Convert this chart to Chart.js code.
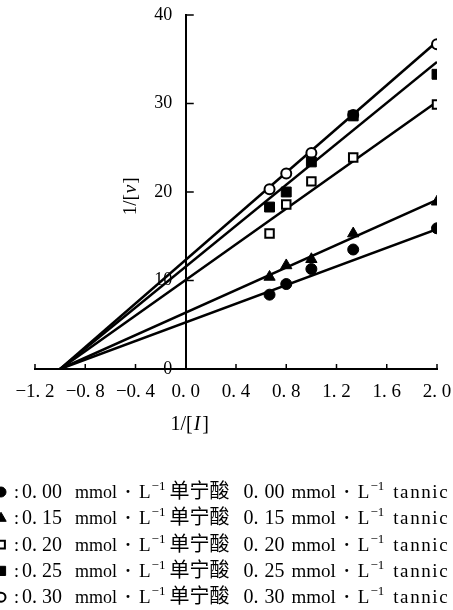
<!DOCTYPE html>
<html>
<head>
<meta charset="utf-8">
<script src="https://cdn.jsdelivr.net/npm/chart.js@4.4.0/dist/chart.umd.min.js"></script>
<style>
  html, body { margin: 0; padding: 0; background: #fff; }
</style>
</head>
<body>
<canvas id="myChart" width="453" height="610"></canvas>
<script>
// 1/[I] values where measurements were taken
const xValues = [0.667, 0.8, 1.0, 1.333, 2.0]

// 1/[v] for each tannic acid concentration
const tannic000 = [8.4, 9.6, 11.3, 13.5, 15.9]
const tannic015 = [10.4, 11.7, 12.4, 15.3, 18.9]
const tannic020 = [15.3, 18.6, 21.2, 23.9, 29.9]
const tannic025 = [18.3, 20.0, 23.4, 28.6, 33.3]
const tannic030 = [20.3, 22.1, 24.4, 28.7, 36.7]

// fitted lines, read at both ends
const fitX = [-1.0, 2.0]
const fit000 = [0, 15.8]
const fit015 = [0, 19.1]
const fit020 = [0, 30.2]
const fit025 = [0, 34.7]
const fit030 = [0, 37.0]

const concLabels = ['0.00', '0.15', '0.20', '0.25', '0.30']
const xTicks = [-1.2, -0.8, -0.4, 0, 0.4, 0.8, 1.2, 1.6, 2.0]
const yTicks = [0, 10, 20, 30, 40]

const serif = "'Liberation Serif', 'DejaVu Serif', serif"
const cjk = "'Noto Sans CJK SC', sans-serif"

const markers = [
  { pointStyle: 'circle', radius: 5.5, fill: '#000', borderWidth: 1 },
  { pointStyle: 'triangle', radius: 6.5, fill: '#000', borderWidth: 1 },
  { pointStyle: 'rect', radius: 6, fill: '#fff', borderWidth: 2 },
  { pointStyle: 'rect', radius: 7, fill: '#000', borderWidth: 1 },
  { pointStyle: 'circle', radius: 5, fill: '#fff', borderWidth: 2 },
]

const seriesY = [tannic000, tannic015, tannic020, tannic025, tannic030]
const fitY = [fit000, fit015, fit020, fit025, fit030]

const datasets = []
seriesY.forEach((ys, i) => {
  const m = markers[i]
  datasets.push({
    label: concLabels[i],
    data: xValues.map((x, j) => ({ x, y: ys[j] })),
    showLine: false,
    pointStyle: m.pointStyle,
    pointRadius: m.radius,
    pointBackgroundColor: m.fill,
    pointBorderColor: '#000',
    pointBorderWidth: m.borderWidth,
    order: 0,
  })
})
fitY.forEach((ys, i) => {
  datasets.push({
    label: 'fit ' + concLabels[i],
    data: fitX.map((x, j) => ({ x, y: ys[j] })),
    showLine: true,
    borderColor: '#000',
    borderWidth: 2.5,
    pointRadius: 0,
    order: 1,
  })
})

const fmtTick = v => v.toFixed(1).replace('-', '\u2212').replace('.', '. ')

// draw a run of text pieces left to right
function drawRuns(ctx, runs, x, y) {
  let cx = x
  runs.forEach(r => {
    ctx.font = r.font
    ctx.letterSpacing = r.spacing || '0px'
    ctx.fillText(r.text, cx, y + (r.dy || 0))
    cx += ctx.measureText(r.text).width + (r.gap || 0)
  })
  ctx.letterSpacing = '0px'
  return cx
}
function runsWidth(ctx, runs) {
  let w = 0
  runs.forEach(r => { ctx.font = r.font; w += ctx.measureText(r.text).width + (r.gap || 0) })
  return w
}

const extras = {
  id: 'extras',
  afterDraw: chart => {
    const { ctx, scales: { x, y } } = chart
    ctx.save()
    // inward tick marks
    ctx.strokeStyle = '#000'
    ctx.lineWidth = 1.5
    ctx.beginPath()
    x.ticks.forEach(t => {
      const px = x.getPixelForValue(t.value)
      ctx.moveTo(px, y.bottom)
      ctx.lineTo(px, y.bottom - 5)
    })
    const x0 = x.getPixelForValue(0)
    y.ticks.forEach(t => {
      if (t.value === 0) return
      const py = y.getPixelForValue(t.value)
      ctx.moveTo(x0, py)
      ctx.lineTo(x0 + 8, py)
    })
    ctx.stroke()

    ctx.fillStyle = '#000'
    ctx.textBaseline = 'alphabetic'
    ctx.textAlign = 'left'

    // x axis title
    const xt = [
      { text: '1/[', font: `20px ${serif}`, gap: 1 },
      { text: 'I', font: `italic 20px ${serif}`, gap: 2 },
      { text: ']', font: `20px ${serif}` },
    ]
    drawRuns(ctx, xt, x0 + 4 - runsWidth(ctx, xt) / 2, 430)

    // y axis title
    const yt = [
      { text: '1/[', font: `19px ${serif}`, gap: 1 },
      { text: 'v', font: `italic 19px ${serif}`, gap: 1 },
      { text: ']', font: `19px ${serif}` },
    ]
    ctx.translate(136, y.getPixelForValue(19.5))
    ctx.rotate(-Math.PI / 2)
    drawRuns(ctx, yt, -runsWidth(ctx, yt) / 2, 0)
    ctx.setTransform(1, 0, 0, 1, 0, 0)

    // legend rows
    const rowTop = 498
    const rowStep = 26.3
    concLabels.forEach((c, i) => {
      const by = rowTop + i * rowStep
      const m = markers[i]
      ctx.fillStyle = m.fill
      ctx.strokeStyle = '#000'
      ctx.lineWidth = m.borderWidth
      Chart.helpers.drawPoint(ctx, { pointStyle: m.pointStyle, radius: m.radius - 0.5, borderWidth: m.borderWidth, rotation: 0 }, 1, by - 6)
      ctx.fillStyle = '#000'
      const [whole, frac] = c.split('.')
      drawRuns(ctx, [
        { text: ':', font: `18px ${serif}`, gap: 3 },
        { text: whole + '.', font: `20px ${serif}`, gap: 5 },
        { text: frac, font: `20px ${serif}`, gap: 13 },
        { text: 'mmol', font: `18px ${serif}`, gap: 8 },
        { text: '\u00b7', font: `bold 18px ${serif}`, gap: 8 },
        { text: 'L', font: `19px ${serif}`, gap: 1 },
        { text: '\u22121', font: `13px ${serif}`, dy: -8, gap: 4 },
        { text: '单宁酸', font: `20px ${cjk}`, gap: 14 },
        { text: whole + '.', font: `20px ${serif}`, gap: 6 },
        { text: frac, font: `20px ${serif}`, gap: 7 },
        { text: 'mmol', font: `19px ${serif}`, gap: 8 },
        { text: '\u00b7', font: `bold 18px ${serif}`, gap: 8 },
        { text: 'L', font: `19px ${serif}`, gap: 1 },
        { text: '\u22121', font: `13px ${serif}`, dy: -8, gap: 9 },
        { text: 'tannic', font: `19px ${serif}`, spacing: '1.6px' },
      ], 14, by)
    })
    ctx.restore()
  },
}

const ctx = document.getElementById('myChart')
new Chart(ctx, {
  type: 'scatter',
  data: { datasets },
  plugins: [extras],
  options: {
    animation: false,
    responsive: false,
    layout: { padding: { left: 35, right: 16, top: 15, bottom: 201 } },
    plugins: { legend: { display: false }, tooltip: { enabled: false } },
    scales: {
      x: {
        type: 'linear',
        position: 'bottom',
        min: -1.2,
        max: 2.0,
        afterBuildTicks: scale => { scale.ticks = xTicks.map(v => ({ value: v })) },
        afterFit: scale => { scale.height = 40; scale.paddingLeft = 0; scale.paddingRight = 0 },
        grid: { display: false, drawTicks: false },
        border: { display: true, color: '#000', width: 2 },
        ticks: {
          color: '#000',
          padding: 12,
          maxRotation: 0,
          autoSkip: false,
          font: { family: serif, size: 19 },
          callback: v => fmtTick(v),
        },
      },
      y: {
        type: 'linear',
        position: { x: 0 },
        min: 0,
        max: 40,
        afterBuildTicks: scale => { scale.ticks = yTicks.map(v => ({ value: v })) },
        afterFit: scale => { scale.paddingTop = 0; scale.paddingBottom = 0 },
        grid: { display: false, drawTicks: false },
        border: { display: true, color: '#000', width: 2 },
        ticks: {
          color: '#000',
          autoSkip: false,
          font: { family: serif, size: 18 },
          callback: v => v + '\u2002\u2005',
        },
      },
    },
  },
})
</script>
</body>
</html>
